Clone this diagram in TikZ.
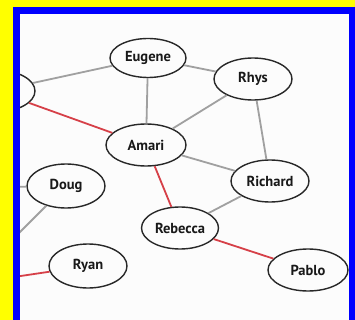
\documentclass[tikz,border=0pt]{standalone}
\usepackage{fontspec}
\setmainfont{PT Sans}
\usetikzlibrary{shapes.geometric}
\definecolor{frameyellow}{RGB}{255,255,0}
\definecolor{frameblue}{RGB}{0,0,255}
\definecolor{edgegray}{RGB}{160,160,160}
\definecolor{edgered}{RGB}{214,64,72}
\definecolor{nodeline}{RGB}{40,40,40}
\definecolor{bgwhite}{RGB}{252,252,252}
\tikzset{
  person/.style={ellipse, draw=nodeline, line width=1.4pt, fill=bgwhite,
    minimum width=78pt, minimum height=42pt, inner sep=0pt,
    font=\bfseries\fontsize{14.5}{15}\selectfont, text=black!90},
  plain/.style={draw=edgegray, line width=1.8pt},
  hot/.style={draw=edgered, line width=1.8pt},
}
\begin{document}
\begin{tikzpicture}[x=1pt,y=-1pt]
\useasboundingbox (0,0) rectangle (355,320);
\fill[frameyellow] (0,0) rectangle (355,320);
\fill[frameblue] (13,7) rectangle (355,320);
\fill[bgwhite] (20,14) rectangle (349,320);
\begin{scope}
\clip (20,14) rectangle (349,320);
\node[person] (left) at (-4,91) {};
\node[person, minimum width=76pt, minimum height=39pt] (eugene) at (148,58) {Eugene};
\node[person] (rhys) at (253,79) {Rhys};
\node[person, minimum width=80pt] (amari) at (146,145) {Amari};
\node[person] (richard) at (270,181) {Richard};
\node[person, minimum width=77pt] (rebecca) at (180,228) {Rebecca};
\node[person, minimum width=80pt] (pablo) at (308,270) {Pablo};
\node[person, minimum height=44pt] (doug) at (66,186) {Doug};
\node[person, minimum height=44pt] (ryan) at (88,266) {Ryan};
\coordinate (offa) at (-60,188);
\coordinate (offb) at (-10,262);
\coordinate (offc) at (-40,285);
\path[plain] (left) -- (eugene);
\path[hot] (left) -- (amari);
\path[plain] (eugene) -- (amari);
\path[plain] (eugene) -- (rhys);
\path[plain] (rhys) -- (amari);
\path[plain] (rhys) -- (richard);
\path[plain] (amari) -- (richard);
\path[hot] (amari) -- (rebecca);
\path[plain] (richard) -- (rebecca);
\path[hot] (rebecca) -- (pablo);
\path[plain] (doug) -- (offa);
\path[plain] (doug) -- (offb);
\path[hot] (ryan) -- (offc);
\end{scope}
\end{tikzpicture}
\end{document}
